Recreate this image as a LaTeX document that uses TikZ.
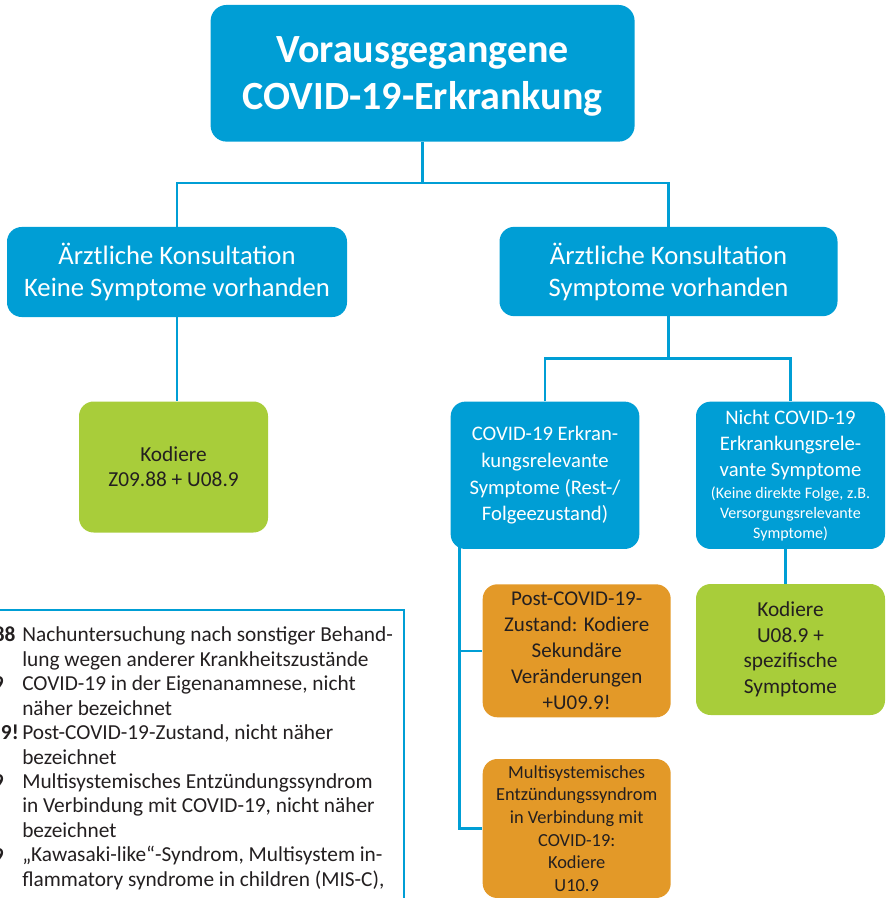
\documentclass[tikz,border=0pt]{standalone}
\usepackage{fontspec}
\setmainfont{Carlito}

\definecolor{rkiblue}{RGB}{0,158,213}
\definecolor{rkigreen}{RGB}{168,205,58}
\definecolor{rkiorange}{RGB}{227,153,40}
\definecolor{rkitext}{RGB}{35,31,32}

\tikzset{
	bluebox/.style={fill=rkiblue, text=white, rounded corners=11pt, align=center, inner sep=0pt},
	greenbox/.style={fill=rkigreen, text=rkitext, rounded corners=11pt, align=center, inner sep=0pt},
	orangebox/.style={fill=rkiorange, text=rkitext, rounded corners=11pt, align=center, inner sep=0pt},
	link/.style={draw=rkiblue, line width=1.9pt},
	codetext/.style={anchor=base east, inner sep=0pt, text=rkitext, font=\fontsize{16}{18.4}\selectfont\bfseries},
	desctext/.style={anchor=base west, inner sep=0pt, text=rkitext, align=left, font=\fontsize{16}{18.4}\selectfont},
}

\begin{document}
\begin{tikzpicture}[x=0.75pt,y=0.75pt,yscale=-1,xscale=1]
	\useasboundingbox (0,0) rectangle (888,898);
	\clip (0,0) rectangle (888,898);
	
	% boxes
	\node [bluebox, rounded corners=12pt, minimum width=318pt, minimum height=102.5pt, text depth=0pt, font=\fontsize{30}{35}\selectfont\bfseries] (top) at (422.6,73.3) {Vorausgegangene\\COVID-19-Erkrankung};
	\node [bluebox, minimum width=255pt, minimum height=67.5pt, font=\fontsize{20}{24}\selectfont] (kons1) at (177,272) {Ärztliche Konsultation\\Keine Symptome vorhanden};
	\node [bluebox, minimum width=253.5pt, minimum height=67pt, font=\fontsize{20}{24}\selectfont] (kons2) at (668.5,271.5) {Ärztliche Konsultation\\Symptome vorhanden};
	\node [greenbox, minimum width=141.75pt, minimum height=98.25pt, font=\fontsize{16}{19}\selectfont] (kod1) at (173.5,467) {Kodiere\\Z09.88 + U08.9};
	\node [bluebox, minimum width=141.5pt, minimum height=110.5pt, font=\fontsize{15.5}{20}\selectfont] (covid) at (545,475.3) {COVID-19 Erkran-\\kungsrelevante\\Symptome (Rest-/\\Folgeezustand)};
	\node [bluebox, minimum width=141.75pt, minimum height=110.5pt, font=\fontsize{15.5}{19.5}\selectfont] (nicht) at (790.5,475.3) {Nicht COVID-19\\Erkrankungsrele-\\vante Symptome\\[-3pt]{\fontsize{12}{15}\selectfont (Keine direkte Folge, z.B.}\\[-4.5pt]{\fontsize{12}{15}\selectfont Versorgungsrelevante}\\[-4.5pt]{\fontsize{12}{15}\selectfont Symptome)}};
	\node [orangebox, minimum width=141pt, minimum height=99.75pt, font=\fontsize{15.75}{19.5}\selectfont] (post) at (576.7,650.8) {Post-COVID-19-\\Zustand: Kodiere\\Sekundäre\\Veränderungen\\+U09.9!};
	\node [greenbox, minimum width=141.75pt, minimum height=98.25pt, font=\fontsize{16}{19.2}\selectfont] (kod2) at (790.5,649.5) {Kodiere\\U08.9 +\\spezifische\\Symptome};
	\node [orangebox, minimum width=141pt, minimum height=104.25pt, font=\fontsize{13.8}{17}\selectfont] (mis) at (576.7,828.5) {Multisystemisches\\Entzündungssyndrom\\in Verbindung mit\\COVID-19:\\Kodiere\\U10.9};
	
	% connectors
	\path (top.south) ++(0,41.3) coordinate (j1);
	\draw [link] (top.south) -- (j1);
	\draw [link] (kons1.north) |- (j1) -| (kons2.north);
	\draw [link] (kons1.south) -- (kons1.south |- kod1.north);
	\draw [link] (kons2.south) -- ++(0,42) coordinate (j2);
	\draw [link] (covid.north) |- (j2) -| (nicht.north);
	\draw [link] ([xshift=-3.75pt]nicht.south) -- ([xshift=-3.75pt]kod2.north);
	\draw [link] ([xshift=6.75pt,yshift=-6pt]covid.south west) |- (post.west);
	\draw [link] ([xshift=6.75pt,yshift=-6pt]covid.south west) |- (mis.west);
	
	% legend
	\draw [draw=rkiblue, line width=1.1pt] (-20,610) rectangle (404,940);
	\node [codetext] (c1) at (15.7,641.5) {Z09.88};
	\node [desctext] (d1) at (22,666) {Nachuntersuchung nach sonstiger Behand-\\lung wegen anderer Krankheitszustände};
	\node [codetext] (c2) at (4,690.5) {U08.9};
	\node [desctext] (d2) at (22,715) {COVID-19 in der Eigenanamnese, nicht\\näher bezeichnet};
	\node [codetext] (c3) at (19,739.5) {U09.9!};
	\node [desctext] (d3) at (22,764) {Post-COVID-19-Zustand, nicht näher\\bezeichnet};
	\node [codetext] (c4) at (4,788.5) {U10.9};
	\node [desctext] (d4) at (22,837.5) {Multisystemisches Entzündungssyndrom\\in Verbindung mit COVID-19, nicht näher\\bezeichnet};
	\node [codetext] (c5) at (4,862) {U10.9};
	\node [desctext] (d5) at (22,886.5) {„Kawasaki-like“-Syndrom, Multisystem in-\\flammatory syndrome in children (MIS-C),};
\end{tikzpicture}
\end{document}
